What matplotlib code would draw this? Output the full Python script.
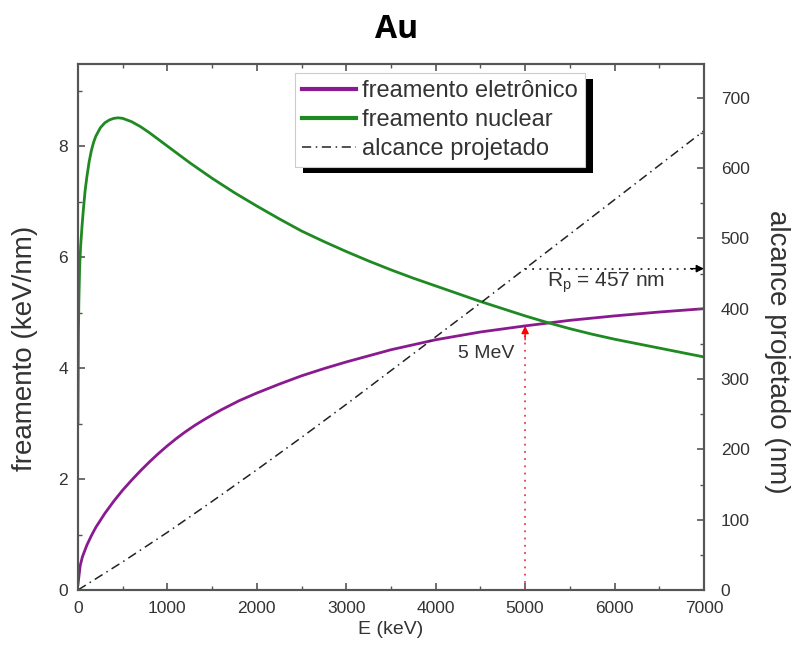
import matplotlib
matplotlib.use("Agg")
import matplotlib.pyplot as plt
from matplotlib.patches import Rectangle
from matplotlib.ticker import MultipleLocator
from matplotlib.transforms import IdentityTransform
import numpy as np

plt.rcParams["font.family"] = ["Liberation Sans", "DejaVu Sans"]

# ___ data ___
# nuclear stopping (keV/nm)
e_nuc = [0, 5, 10, 19, 30, 45, 60, 80, 100, 125, 150, 175, 200, 250, 300,
         350, 400, 450, 500, 600, 700, 800, 900, 1000, 1250, 1500, 1750,
         2000, 2250, 2500, 2750, 3000, 3250, 3500, 3750, 4000, 4250, 4500,
         4750, 5000, 5250, 5500, 5750, 6000, 6250, 6500, 6750, 7000]
s_nuc = [3.0, 4.6, 5.2, 5.83, 6.2, 6.55, 6.85, 7.2, 7.45, 7.72, 7.92, 8.07,
         8.18, 8.33, 8.42, 8.47, 8.50, 8.51, 8.50, 8.44, 8.35, 8.24, 8.12,
         8.00, 7.70, 7.42, 7.16, 6.92, 6.69, 6.47, 6.28, 6.10, 5.93, 5.77,
         5.62, 5.48, 5.34, 5.20, 5.07, 4.94, 4.82, 4.71, 4.61, 4.52, 4.44,
         4.36, 4.28, 4.20]

# electronic stopping (keV/nm)
e_ele = [0, 25, 50, 100, 150, 200, 300, 400, 500, 600, 700, 800, 900, 1000,
         1100, 1200, 1300, 1400, 1500, 1600, 1800, 2000, 2250, 2500, 2750,
         3000, 3250, 3500, 3750, 4000, 4500, 5000, 5500, 6000, 6500, 7000]
s_ele = [0.1, 0.44, 0.6, 0.81, 0.98, 1.13, 1.38, 1.60, 1.80, 1.98, 2.15, 2.31,
         2.46, 2.60, 2.73, 2.85, 2.96, 3.06, 3.155, 3.245, 3.41, 3.55, 3.71,
         3.86, 3.99, 4.11, 4.22, 4.33, 4.42, 4.51, 4.65, 4.76, 4.86, 4.94,
         5.01, 5.07]

# projected range (nm)
e_rng = [0, 500, 1000, 1500, 2000, 2500, 3000, 3500, 4000, 4500, 5000, 5500,
         6000, 6500, 7000]
r_proj = [0, 40, 82, 126, 171, 217, 264, 312, 360, 408, 457, 506, 555, 604, 653]

# marked point
e_mark = 5000
rp_mark = 457

TXT = "#333333"
SPINE = "#555555"

fig = plt.figure(figsize=(7.94, 6.49), dpi=100)
ax = fig.add_axes([0.0982, 0.0909, 0.7884, 0.8105])
ax2 = ax.twinx()

ln_e, = ax.plot(e_ele, s_ele, color="#8a1a8f", lw=2.0, label="freamento eletrônico")
ln_n, = ax.plot(e_nuc, s_nuc, color="#1f8a22", lw=2.0, label="freamento nuclear")
ln_r, = ax2.plot(e_rng, r_proj, color="#222222", lw=1.1, ls=(0, (6, 3, 1, 3)),
                 label="alcance projetado")

# 5 MeV marker
y_mark = np.interp(e_mark, e_ele, s_ele)
ax.plot([e_mark, e_mark], [0, y_mark], ls=(0, (1, 3)), color="#e0405a", lw=1.3)
ax.annotate("", xy=(e_mark, y_mark), xytext=(e_mark, y_mark - 0.25),
            arrowprops=dict(arrowstyle="-|>", color="red", lw=1,
                            mutation_scale=11, shrinkA=0, shrinkB=0))
ax.text(e_mark - 120, 4.27, "5 MeV", ha="right", va="center", fontsize=14, color=TXT)

# Rp marker
ax2.plot([e_mark, 7000], [rp_mark, rp_mark], ls=(0, (1, 3)), color="#222222", lw=1.3)
ax2.annotate("", xy=(7000, rp_mark), xytext=(6850, rp_mark),
             arrowprops=dict(arrowstyle="-|>", color="black", lw=1,
                             mutation_scale=11, shrinkA=0, shrinkB=0))
ax2.text(5246, 437, "R$_\\mathregular{p}$ = 457 nm", ha="left", va="center",
         fontsize=15, color=TXT)

ax.set_xlim(0, 7000)
ax.set_ylim(0, 9.48)
ax2.set_ylim(0, 748)

ax.xaxis.set_major_locator(MultipleLocator(1000))
ax.xaxis.set_minor_locator(MultipleLocator(500))
ax.yaxis.set_major_locator(MultipleLocator(2))
ax.yaxis.set_minor_locator(MultipleLocator(1))
ax2.yaxis.set_major_locator(MultipleLocator(100))
ax2.yaxis.set_minor_locator(MultipleLocator(50))

for a in (ax, ax2):
    for sp in a.spines.values():
        sp.set_color(SPINE)
        sp.set_linewidth(1.5)
ax.tick_params(which="both", direction="in", top=True, right=False,
               colors=SPINE, labelcolor=TXT, labelsize=12.5)
ax.tick_params(which="major", length=5, width=1.2)
ax.tick_params(which="minor", length=3, width=1)
ax.tick_params(axis="x", pad=8)
ax.tick_params(axis="y", pad=7)
ax2.tick_params(which="both", direction="in", colors=SPINE, labelcolor=TXT,
                labelsize=12.5, pad=12)
ax2.tick_params(which="major", length=5, width=1.2)
ax2.tick_params(which="minor", length=3, width=1)

ax.set_xlabel("E (keV)", fontsize=14, color=TXT, va="center")
ax.xaxis.set_label_coords(0.5, -0.076)
ax.set_ylabel("freamento (keV/nm)", fontsize=20, color=TXT, va="center")
ax.yaxis.set_label_coords(-0.0847, 0.46)
ax2.set_ylabel("alcance projetado (nm)", fontsize=20, color=TXT, rotation=270,
               va="center")
ax2.yaxis.set_label_coords(1.1166, 0.452)

leg = ax2.legend(handles=[ln_e, ln_n, ln_r], loc="upper left",
                 bbox_to_anchor=(0.3466, 0.983), borderaxespad=0,
                 fontsize=17, labelspacing=0.3, handlelength=2.3,
                 handletextpad=0.25, borderpad=0.3, fancybox=False,
                 framealpha=1, edgecolor="#cccccc", labelcolor=TXT)
leg.get_frame().set_linewidth(0.8)
leg.set_zorder(5)
for h in leg.get_lines()[:2]:
    h.set_linewidth(3)

# hard black drop shadow behind the legend
fig.canvas.draw()
bb = leg.get_window_extent()
ax2.add_patch(Rectangle((bb.x0 + 8, bb.y0 - 6), bb.width, bb.height,
                        transform=IdentityTransform(), facecolor="black",
                        edgecolor="none", zorder=4.5, clip_on=False))

fig.text(0.5, 1 - 29.5 / 649, "Au", ha="center", va="center", fontsize=23,
         fontweight="bold", family=["Open Sans", "DejaVu Sans"], color="black")

fig.savefig("out.png", dpi=100)
